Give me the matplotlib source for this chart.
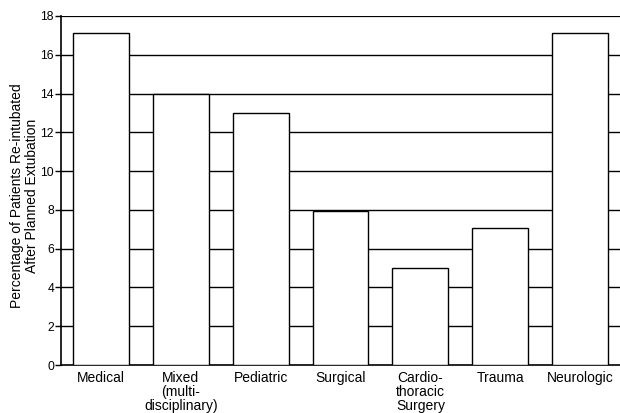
import matplotlib
matplotlib.use("Agg")
import matplotlib.pyplot as plt

plt.rcParams["font.family"] = ["Liberation Sans", "DejaVu Sans"]

units = ["Medical", "Mixed\n(multi-\ndisciplinary)", "Pediatric", "Surgical",
         "Cardio-\nthoracic\nSurgery", "Trauma", "Neurologic"]
reintubated = [17.1, 14.0, 13.0, 7.95, 5.0, 7.05, 17.1]
yticks = list(range(0, 19, 2))

fig = plt.figure(figsize=(6.2, 4.13), dpi=100)
ax = fig.add_axes([61 / 620, 1 - 365 / 413, 1 - 61 / 620, 349 / 413])

x = range(len(units))
ax.bar(x, reintubated, width=0.7, color="white", edgecolor="black", lw=1, zorder=3)

# horizontal rules behind the bars, heavier one on top
for t in yticks[1:]:
    ax.axhline(t, color="black", lw=1.6 if t == 18 else 1, zorder=1)

ax.set_xlim(-0.5, len(units) - 0.5)
ax.set_ylim(0, 18)
ax.set_yticks(yticks)
ax.set_xticks(list(x))
ax.set_xticklabels(units, fontsize=10, linespacing=1.0)
ax.tick_params(axis="x", length=0, pad=4)
ax.tick_params(axis="y", length=4, width=1, labelsize=8.7, pad=1)
for s in ["top", "right"]:
    ax.spines[s].set_visible(False)
ax.spines["left"].set_linewidth(1.2)
ax.spines["bottom"].set_linewidth(1.2)
ax.set_ylabel("Percentage of Patients Re-intubated\nAfter Planned Extubation",
              fontsize=10, linespacing=1.1)
ax.yaxis.set_label_coords(-0.04, 0.485)

fig.savefig("out.png", dpi=100)
